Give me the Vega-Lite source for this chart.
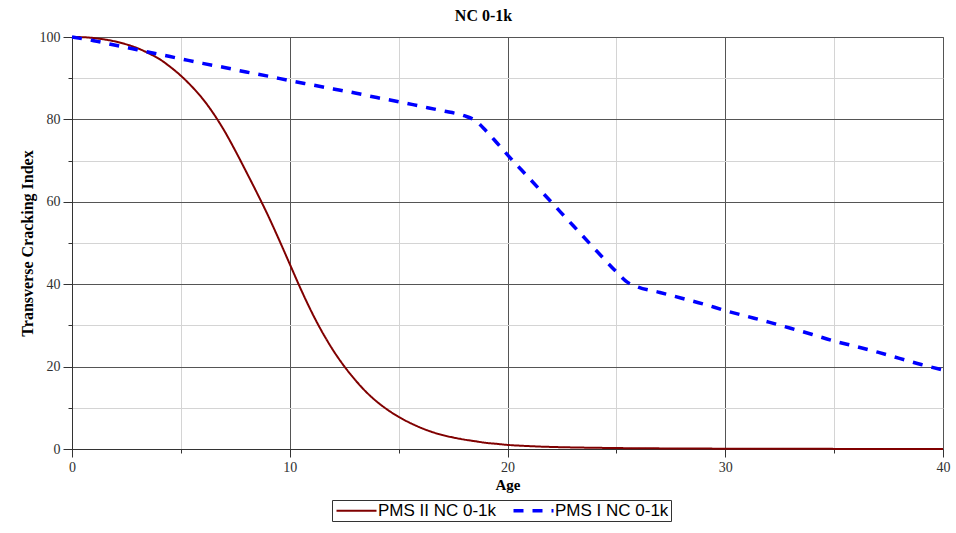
{
  "$schema": "https://vega.github.io/schema/vega-lite/v6.json",
  "width": 871,
  "height": 412,
  "autosize": {"type": "none"},
  "padding": {"left": 72, "top": 37, "right": 13, "bottom": 84},
  "background": "white",
  "title": {"text": "NC 0-1k", "font": "Liberation Serif", "fontSize": 16, "fontWeight": "bold", "color": "black", "anchor": "middle", "frame": "group", "offset": 6, "dx": -24},
  "config": {
    "view": {"stroke": "#707070", "strokeWidth": 1},
    "legend": {"orient": "none", "legendX": 260, "legendY": 463, "direction": "horizontal", "title": null, "labelFont": "Liberation Sans", "labelFontSize": 17, "labelColor": "black", "symbolType": "M-4,0H4", "symbolSize": 100, "symbolOffset": 14, "labelOffset": 13, "strokeColor": "#333333", "padding": 2, "columnPadding": 9}
  },
  "data": {"values": [
    {"series": "PMS II NC 0-1k", "age": 0, "value": 100},
    {"series": "PMS II NC 0-1k", "age": 0.5, "value": 99.95},
    {"series": "PMS II NC 0-1k", "age": 1, "value": 99.75},
    {"series": "PMS II NC 0-1k", "age": 1.5, "value": 99.4},
    {"series": "PMS II NC 0-1k", "age": 2, "value": 98.9},
    {"series": "PMS II NC 0-1k", "age": 2.5, "value": 98.2},
    {"series": "PMS II NC 0-1k", "age": 3, "value": 97.3},
    {"series": "PMS II NC 0-1k", "age": 3.5, "value": 96.1},
    {"series": "PMS II NC 0-1k", "age": 4, "value": 94.7},
    {"series": "PMS II NC 0-1k", "age": 4.5, "value": 92.8},
    {"series": "PMS II NC 0-1k", "age": 5, "value": 90.6},
    {"series": "PMS II NC 0-1k", "age": 5.5, "value": 88.0},
    {"series": "PMS II NC 0-1k", "age": 6, "value": 85.0},
    {"series": "PMS II NC 0-1k", "age": 6.5, "value": 81.4},
    {"series": "PMS II NC 0-1k", "age": 7, "value": 77.2},
    {"series": "PMS II NC 0-1k", "age": 7.5, "value": 72.4},
    {"series": "PMS II NC 0-1k", "age": 8, "value": 67.3},
    {"series": "PMS II NC 0-1k", "age": 8.5, "value": 62.1},
    {"series": "PMS II NC 0-1k", "age": 9, "value": 56.7},
    {"series": "PMS II NC 0-1k", "age": 9.5, "value": 50.9},
    {"series": "PMS II NC 0-1k", "age": 10, "value": 44.9},
    {"series": "PMS II NC 0-1k", "age": 10.5, "value": 38.9},
    {"series": "PMS II NC 0-1k", "age": 11, "value": 33.3},
    {"series": "PMS II NC 0-1k", "age": 11.5, "value": 28.3},
    {"series": "PMS II NC 0-1k", "age": 12, "value": 23.9},
    {"series": "PMS II NC 0-1k", "age": 12.5, "value": 20.1},
    {"series": "PMS II NC 0-1k", "age": 13, "value": 16.8},
    {"series": "PMS II NC 0-1k", "age": 13.5, "value": 13.9},
    {"series": "PMS II NC 0-1k", "age": 14, "value": 11.5},
    {"series": "PMS II NC 0-1k", "age": 14.5, "value": 9.5},
    {"series": "PMS II NC 0-1k", "age": 15, "value": 7.8},
    {"series": "PMS II NC 0-1k", "age": 15.5, "value": 6.4},
    {"series": "PMS II NC 0-1k", "age": 16, "value": 5.2},
    {"series": "PMS II NC 0-1k", "age": 16.5, "value": 4.2},
    {"series": "PMS II NC 0-1k", "age": 17, "value": 3.4},
    {"series": "PMS II NC 0-1k", "age": 17.5, "value": 2.8},
    {"series": "PMS II NC 0-1k", "age": 18, "value": 2.3},
    {"series": "PMS II NC 0-1k", "age": 18.5, "value": 1.9},
    {"series": "PMS II NC 0-1k", "age": 19, "value": 1.5},
    {"series": "PMS II NC 0-1k", "age": 19.5, "value": 1.25},
    {"series": "PMS II NC 0-1k", "age": 20, "value": 1.0},
    {"series": "PMS II NC 0-1k", "age": 21, "value": 0.7},
    {"series": "PMS II NC 0-1k", "age": 22, "value": 0.5},
    {"series": "PMS II NC 0-1k", "age": 23, "value": 0.38},
    {"series": "PMS II NC 0-1k", "age": 24, "value": 0.3},
    {"series": "PMS II NC 0-1k", "age": 25, "value": 0.23},
    {"series": "PMS II NC 0-1k", "age": 27, "value": 0.15},
    {"series": "PMS II NC 0-1k", "age": 30, "value": 0.08},
    {"series": "PMS II NC 0-1k", "age": 35, "value": 0.03},
    {"series": "PMS II NC 0-1k", "age": 40, "value": 0.01},
    {"series": "PMS I NC 0-1k", "age": 0, "value": 100},
    {"series": "PMS I NC 0-1k", "age": 1, "value": 99.1},
    {"series": "PMS I NC 0-1k", "age": 2, "value": 98},
    {"series": "PMS I NC 0-1k", "age": 3, "value": 96.9},
    {"series": "PMS I NC 0-1k", "age": 4, "value": 95.8},
    {"series": "PMS I NC 0-1k", "age": 5, "value": 94.7},
    {"series": "PMS I NC 0-1k", "age": 6, "value": 93.6},
    {"series": "PMS I NC 0-1k", "age": 7, "value": 92.6},
    {"series": "PMS I NC 0-1k", "age": 8, "value": 91.5},
    {"series": "PMS I NC 0-1k", "age": 9, "value": 90.5},
    {"series": "PMS I NC 0-1k", "age": 10, "value": 89.4},
    {"series": "PMS I NC 0-1k", "age": 11, "value": 88.4},
    {"series": "PMS I NC 0-1k", "age": 12, "value": 87.4},
    {"series": "PMS I NC 0-1k", "age": 13, "value": 86.4},
    {"series": "PMS I NC 0-1k", "age": 14, "value": 85.3},
    {"series": "PMS I NC 0-1k", "age": 15, "value": 84.3},
    {"series": "PMS I NC 0-1k", "age": 16, "value": 83.2},
    {"series": "PMS I NC 0-1k", "age": 17, "value": 82.1},
    {"series": "PMS I NC 0-1k", "age": 18, "value": 80.9},
    {"series": "PMS I NC 0-1k", "age": 18.5, "value": 79.8},
    {"series": "PMS I NC 0-1k", "age": 19, "value": 77.3},
    {"series": "PMS I NC 0-1k", "age": 19.5, "value": 74.4},
    {"series": "PMS I NC 0-1k", "age": 20, "value": 71.4},
    {"series": "PMS I NC 0-1k", "age": 21, "value": 65.7},
    {"series": "PMS I NC 0-1k", "age": 22, "value": 60},
    {"series": "PMS I NC 0-1k", "age": 23, "value": 54.3},
    {"series": "PMS I NC 0-1k", "age": 24, "value": 48.6},
    {"series": "PMS I NC 0-1k", "age": 25, "value": 43},
    {"series": "PMS I NC 0-1k", "age": 25.5, "value": 40.5},
    {"series": "PMS I NC 0-1k", "age": 26, "value": 39.3},
    {"series": "PMS I NC 0-1k", "age": 27, "value": 38},
    {"series": "PMS I NC 0-1k", "age": 28, "value": 36.6},
    {"series": "PMS I NC 0-1k", "age": 29, "value": 35.2},
    {"series": "PMS I NC 0-1k", "age": 30, "value": 33.6},
    {"series": "PMS I NC 0-1k", "age": 31, "value": 32.2},
    {"series": "PMS I NC 0-1k", "age": 32, "value": 30.8},
    {"series": "PMS I NC 0-1k", "age": 33, "value": 29.3},
    {"series": "PMS I NC 0-1k", "age": 34, "value": 27.8},
    {"series": "PMS I NC 0-1k", "age": 35, "value": 26.2},
    {"series": "PMS I NC 0-1k", "age": 36, "value": 24.9},
    {"series": "PMS I NC 0-1k", "age": 37, "value": 23.5},
    {"series": "PMS I NC 0-1k", "age": 38, "value": 22},
    {"series": "PMS I NC 0-1k", "age": 39, "value": 20.5},
    {"series": "PMS I NC 0-1k", "age": 40, "value": 19.2}
  ]},
  "layer": [
    {
      "mark": {"type": "point", "opacity": 0},
      "encoding": {
        "x": {"field": "age", "type": "quantitative", "scale": {"domain": [0, 40], "nice": false},
          "axis": {"orient": "bottom", "values": [5, 15, 25, 35], "grid": true, "gridColor": "#d4d4d4", "gridWidth": 1, "domain": false, "labels": false, "ticks": true, "tickSize": 4, "tickColor": "#333333", "title": null}},
        "y": {"field": "value", "type": "quantitative", "scale": {"domain": [0, 100], "nice": false},
          "axis": {"orient": "left", "values": [10, 30, 50, 70, 90], "grid": true, "gridColor": "#d4d4d4", "gridWidth": 1, "domain": false, "labels": false, "ticks": true, "tickSize": 4, "tickColor": "#333333", "title": null}}
      }
    },
    {
      "mark": {"type": "line", "interpolate": "monotone"},
      "encoding": {
        "x": {"field": "age", "type": "quantitative", "scale": {"domain": [0, 40], "nice": false},
          "axis": {"orient": "bottom", "values": [0, 10, 20, 30, 40], "format": "d", "grid": true, "gridColor": "#555555", "gridWidth": 1, "domain": true, "domainColor": "#333333", "tickSize": 8, "tickColor": "#333333", "labelFont": "Liberation Serif", "labelFontSize": 14, "labelColor": "#303030", "labelPadding": 3, "labelFlush": false, "title": "Age", "titleFont": "Liberation Serif", "titleFontSize": 15, "titleFontWeight": "bold", "titleColor": "black", "titlePadding": 3}},
        "y": {"field": "value", "type": "quantitative", "scale": {"domain": [0, 100], "nice": false},
          "axis": {"orient": "left", "values": [0, 20, 40, 60, 80, 100], "format": "d", "grid": true, "gridColor": "#555555", "gridWidth": 1, "domain": true, "domainColor": "#333333", "tickSize": 9, "tickColor": "#333333", "labelFont": "Liberation Serif", "labelFontSize": 14, "labelColor": "#303030", "labelPadding": 3, "labelFlush": false, "title": "Transverse Cracking Index", "titleFont": "Liberation Serif", "titleFontSize": 16, "titleFontWeight": "bold", "titleColor": "black", "titlePadding": 4}},
        "color": {"field": "series", "type": "nominal", "scale": {"domain": ["PMS II NC 0-1k", "PMS I NC 0-1k"], "range": ["#800000", "#0000ff"]}},
        "strokeDash": {"field": "series", "type": "nominal", "scale": {"domain": ["PMS II NC 0-1k", "PMS I NC 0-1k"], "range": [[1, 0], [10, 9]]}},
        "strokeWidth": {"field": "series", "type": "ordinal", "scale": {"domain": ["PMS II NC 0-1k", "PMS I NC 0-1k"], "range": [2, 3.5]}}
      }
    }
  ],
  "resolve": {"axis": {"x": "independent", "y": "independent"}}
}
